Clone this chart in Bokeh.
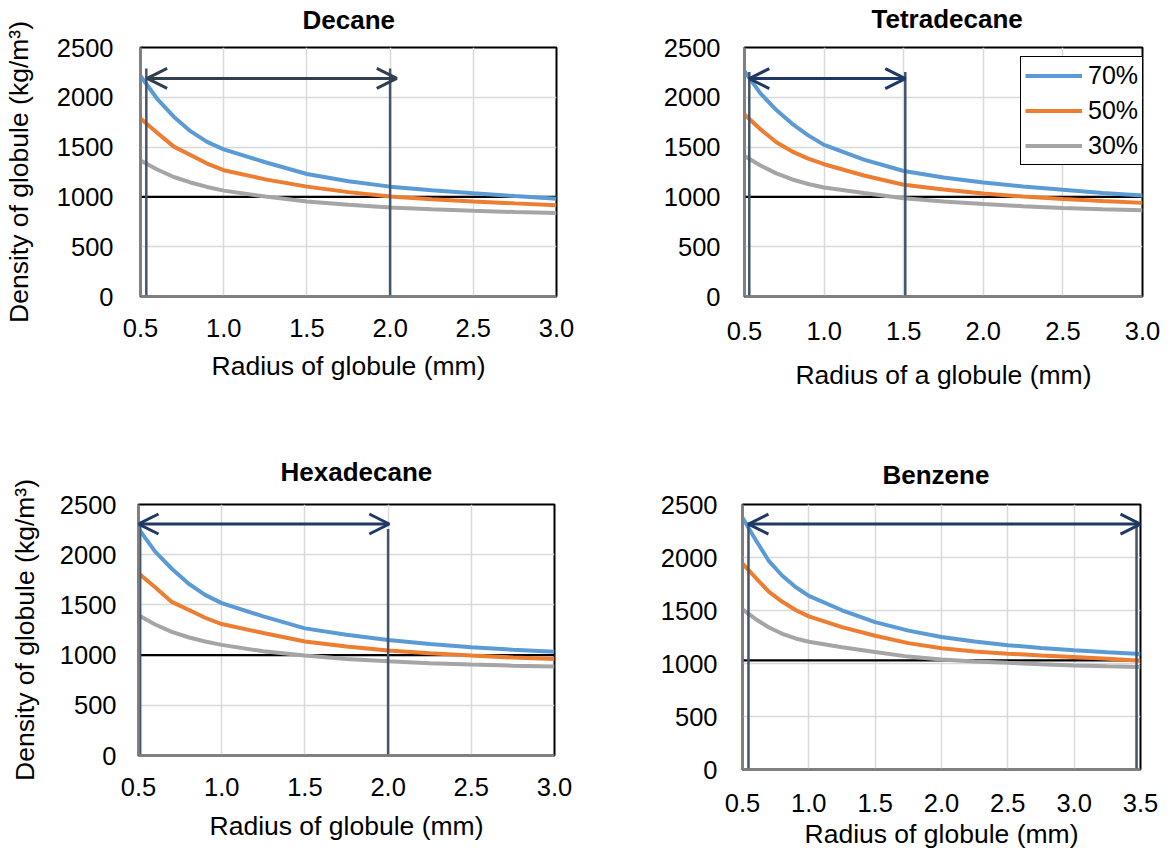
from bokeh.plotting import figure
from bokeh.models import Arrow, OpenHead, FixedTicker, NumeralTickFormatter
from bokeh.layouts import row, column
from bokeh.embed import file_html
from bokeh.resources import INLINE

# ---------------- data ----------------
SERIES_NAMES = ["70%", "50%", "30%"]
SERIES_COLORS = ["#5b9bd5", "#ed7d31", "#a5a5a5"]

R_STD = [0.5, 0.6, 0.7, 0.8, 0.9, 1.0, 1.25, 1.5, 1.75, 2.0, 2.25, 2.5, 2.75, 3.0]
R_BEN = [0.5, 0.6, 0.7, 0.8, 0.9, 1.0, 1.25, 1.5, 1.75, 2.0, 2.25, 2.5, 2.75, 3.0, 3.25, 3.5]

DEC_70 = [2214, 1985, 1805, 1660, 1552, 1477, 1348, 1230, 1158, 1103, 1066, 1036, 1008, 982]
DEC_50 = [1786, 1645, 1505, 1420, 1335, 1268, 1176, 1103, 1048, 1005, 977, 954, 935, 917]
DEC_30 = [1366, 1275, 1200, 1145, 1100, 1063, 1004, 954, 920, 894, 875, 860, 848, 838]

TET_70 = [2262, 2040, 1872, 1734, 1618, 1522, 1375, 1260, 1195, 1145, 1105, 1072, 1040, 1015]
TET_50 = [1828, 1680, 1548, 1455, 1385, 1328, 1215, 1122, 1075, 1035, 1003, 978, 958, 940]
TET_30 = [1412, 1315, 1236, 1175, 1130, 1095, 1040, 987, 955, 928, 907, 888, 876, 867]

HEX_70 = [2260, 2030, 1860, 1713, 1600, 1518, 1385, 1266, 1203, 1151, 1110, 1079, 1053, 1034]
HEX_50 = [1815, 1675, 1530, 1451, 1372, 1309, 1220, 1135, 1085, 1046, 1018, 995, 976, 960]
HEX_30 = [1397, 1305, 1232, 1178, 1135, 1102, 1038, 995, 962, 938, 920, 906, 895, 886]

BEN_70 = [2375, 2165, 1965, 1828, 1722, 1638, 1502, 1390, 1310, 1250, 1207, 1173, 1147, 1125, 1107, 1090]
BEN_50 = [1942, 1808, 1675, 1582, 1505, 1445, 1343, 1262, 1192, 1143, 1114, 1093, 1076, 1061, 1044, 1026]
BEN_30 = [1510, 1418, 1340, 1280, 1236, 1205, 1154, 1109, 1065, 1038, 1020, 1006, 993, 981, 974, 968]

# reference (horizontal) density line per panel
REF_DENSITY = {"Decane": 1000, "Tetradecane": 1000, "Hexadecane": 1000, "Benzene": 1030}

# vertical marker lines: x positions and top values (from 0)
VLINE_X = {"Decane": [0.535, 2.0], "Tetradecane": [0.53, 1.51], "Hexadecane": [0.51, 2.0], "Benzene": [0.545, 3.47]}
VLINE_TOP = {"Decane": [2290, 2290], "Tetradecane": [2255, 2255], "Hexadecane": [2306, 2255], "Benzene": [2330, 2315]}

# double arrows: x_start, x_end, level
ARROW_X0 = {"Decane": 0.54, "Tetradecane": 0.53, "Hexadecane": 0.5, "Benzene": 0.545}
ARROW_X1 = {"Decane": 2.04, "Tetradecane": 1.51, "Hexadecane": 2.007, "Benzene": 3.5}
ARROW_Y = {"Decane": 2190, "Tetradecane": 2188, "Hexadecane": 2306, "Benzene": 2315}
ARROW_COLOR = {"Decane": "#323f4f", "Tetradecane": "#1f3864", "Hexadecane": "#1f3864", "Benzene": "#1f3864"}

X_TICKS_STD = [0.5, 1.0, 1.5, 2.0, 2.5, 3.0]
X_TICKS_BEN = [0.5, 1.0, 1.5, 2.0, 2.5, 3.0, 3.5]
Y_TICKS = [0, 500, 1000, 1500, 2000, 2500]

Y_LABEL = "Density of globule (kg/m\u00b3)"
X_LABEL = "Radius of globule (mm)"
X_LABEL_A = "Radius of a globule (mm)"

FONT = "Liberation Sans"
TICK_SIZE = "25.5px"
LABEL_SIZE = "26.5px"
TITLE_SIZE = "26px"


def make_panel(name, xs, ys, xmax, xticks, geo, xlabel, ylabel=None, legend=False):
    p = figure(frame_width=geo["fw"], frame_height=geo["fh"],
               min_border_left=geo["l"], min_border_right=geo["r"],
               min_border_top=geo["t"], min_border_bottom=geo["b"],
               x_range=(0.5, xmax), y_range=(0, 2500),
               output_backend="svg", toolbar_location=None)
    p.background_fill_color = "white"
    p.border_fill_color = "white"
    p.outline_line_color = "black"
    p.outline_line_width = 2
    p.outline_line_alpha = 1

    p.title.text = name
    p.title.align = "left"
    p.title.offset = geo["t_off"]
    p.title.standoff = geo["t_so"]
    p.title.text_font = FONT
    p.title.text_font_size = TITLE_SIZE
    p.title.text_font_style = "bold"
    p.title.text_color = "black"

    for ax in (p.xaxis[0], p.yaxis[0]):
        ax.major_tick_out = 0
        ax.major_tick_in = 0
        ax.minor_tick_out = 0
        ax.minor_tick_in = 0
        ax.axis_line_color = "#808080"
        ax.axis_line_width = 2.5
        ax.major_label_text_font = FONT
        ax.major_label_text_font_size = TICK_SIZE
        ax.major_label_text_color = "black"
        ax.axis_label_text_font = FONT
        ax.axis_label_text_font_size = LABEL_SIZE
        ax.axis_label_text_font_style = "normal"
        ax.axis_label_text_color = "black"
    p.xaxis.ticker = FixedTicker(ticks=xticks)
    p.xaxis.formatter = NumeralTickFormatter(format="0.0")
    p.yaxis.ticker = FixedTicker(ticks=Y_TICKS)
    p.xaxis.major_label_standoff = geo["xso"]
    p.yaxis.major_label_standoff = geo["yso"]
    p.xaxis.axis_label = xlabel
    p.xaxis.axis_label_standoff = geo["xls"]
    if ylabel:
        p.yaxis.axis_label = ylabel
        p.yaxis.axis_label_standoff = geo["yls"]

    p.xgrid.ticker = FixedTicker(ticks=xticks)
    p.ygrid.ticker = FixedTicker(ticks=Y_TICKS)
    for g in (p.xgrid[0], p.ygrid[0]):
        g.grid_line_color = "#d9d9d9"
        g.grid_line_width = 1.5

    ref = REF_DENSITY[name]
    p.line([0.5, xmax], [ref, ref], line_color="black", line_width=2.2)

    for yv, nm, col in zip(ys, SERIES_NAMES, SERIES_COLORS):
        if legend:
            p.line(xs, yv, line_color=col, line_width=4, legend_label=nm)
        else:
            p.line(xs, yv, line_color=col, line_width=4)

    vx = VLINE_X[name]
    p.segment(x0=vx, y0=[0] * len(vx), x1=vx, y1=VLINE_TOP[name],
              line_color="#44546a", line_width=2.5)

    c = ARROW_COLOR[name]
    p.add_layout(Arrow(start=OpenHead(size=20, line_color=c, line_width=3),
                       end=OpenHead(size=20, line_color=c, line_width=3),
                       x_start=ARROW_X0[name], y_start=ARROW_Y[name],
                       x_end=ARROW_X1[name], y_end=ARROW_Y[name],
                       line_color=c, line_width=3))

    if legend:
        lg = p.legend[0]
        lg.location = geo["leg_loc"]
        lg.border_line_color = "black"
        lg.border_line_width = 1.5
        lg.border_line_alpha = 1
        lg.background_fill_color = "white"
        lg.background_fill_alpha = 1
        lg.label_text_font = FONT
        lg.label_text_font_size = "25px"
        lg.label_text_color = "black"
        lg.glyph_width = 57
        lg.glyph_height = 29
        lg.label_height = 29
        lg.label_standoff = 6
        lg.padding = 4
        lg.spacing = 6
        lg.margin = 0
    return p


g1 = dict(l=138, fw=416, r=43, t=66, fh=249, b=129, t_off=162, t_so=26,
          xso=22, yso=27, xls=11, yls=20)
g2 = dict(l=145, fw=398, r=25, t=66, fh=249, b=129, t_off=127, t_so=28,
          xso=25, yso=24, xls=17, leg_loc=(276, 131))
g3 = dict(l=138, fw=416, r=43, t=79, fh=251, b=102, t_off=142, t_so=36,
          xso=22, yso=22, xls=12, yls=17)
g4 = dict(l=145, fw=398, r=25, t=79, fh=265, b=88, t_off=140, t_so=30,
          xso=24, yso=25, xls=4)

p1 = make_panel("Decane", R_STD, [DEC_70, DEC_50, DEC_30], 3.0, X_TICKS_STD, g1, X_LABEL, Y_LABEL)
p2 = make_panel("Tetradecane", R_STD, [TET_70, TET_50, TET_30], 3.0, X_TICKS_STD, g2, X_LABEL_A, None, legend=True)
p3 = make_panel("Hexadecane", R_STD, [HEX_70, HEX_50, HEX_30], 3.0, X_TICKS_STD, g3, X_LABEL, Y_LABEL)
p4 = make_panel("Benzene", R_BEN, [BEN_70, BEN_50, BEN_30], 3.5, X_TICKS_BEN, g4, X_LABEL)

layout = column(row(p1, p2), row(p3, p4), margin=(-19, 0, -8, 0))

with open("out.html", "w") as f:
    f.write(file_html(layout, INLINE))
